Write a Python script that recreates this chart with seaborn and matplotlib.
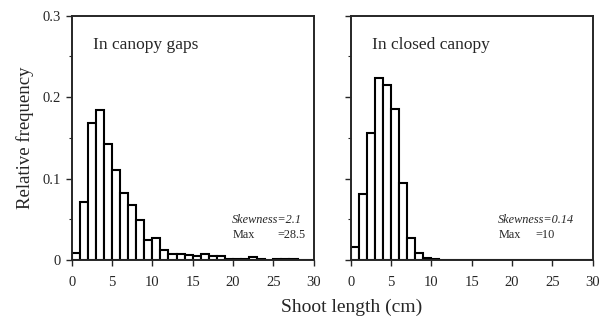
import numpy as np
import pandas as pd
import matplotlib
matplotlib.use("Agg")
import matplotlib.pyplot as plt
import seaborn as sns

# ---- Data (bin = 1 cm, left edges 0..29) ----
bin_left = np.arange(0, 30)
freq_gaps = [0.008, 0.071, 0.168, 0.184, 0.143, 0.110, 0.082, 0.067, 0.049, 0.025,
             0.027, 0.012, 0.007, 0.007, 0.006, 0.005, 0.007, 0.0045, 0.0045, 0.001,
             0.0015, 0.001, 0.004, 0.001, 0.0, 0.001, 0.001, 0.001, 0.0005, 0.0]
freq_closed = [0.016, 0.081, 0.156, 0.223, 0.215, 0.186, 0.094, 0.027, 0.008, 0.003,
               0.001, 0.0, 0.0, 0.0, 0.0, 0.0, 0.0, 0.0, 0.0, 0.0,
               0.0, 0.0, 0.0, 0.0, 0.0, 0.0, 0.0, 0.0, 0.0, 0.0]
panel_titles = ["In canopy gaps", "In closed canopy"]
skewness = ["2.1", "0.14"]
max_len = ["28.5", "10"]

# bin centres, so every value falls clearly inside its 1-cm bin
df = pd.DataFrame({"mid": np.concatenate([bin_left, bin_left]) + 0.5,
                   "freq": freq_gaps + freq_closed,
                   "panel": [panel_titles[0]] * 30 + [panel_titles[1]] * 30})

sns.set_style("ticks")
plt.rcParams["font.family"] = ["Liberation Serif", "DejaVu Serif"]
plt.rcParams["axes.linewidth"] = 1.4

fig = plt.figure(figsize=(6.05, 3.24), dpi=100)
ax1 = fig.add_axes([0.1185, 0.1975, 0.40, 0.754])
ax2 = fig.add_axes([0.5797, 0.1975, 0.40, 0.754])

# where the stats text starts, and where the "=" of the Max line sits
skew_x = [19.9, 18.3]
eq_x = [25.5, 22.9]
for i, (ax, title) in enumerate(zip([ax1, ax2], panel_titles)):
    sub = df[df["panel"] == title]
    sns.histplot(data=sub, x="mid", weights="freq", binwidth=1, binrange=(0, 30),
                 color="white", edgecolor="black", linewidth=1.5, alpha=1,
                 ax=ax)
    ax.set_xlim(0, 30)
    ax.set_ylim(0, 0.3)
    ax.set_xticks(np.arange(0, 31, 5))
    ax.set_yticks([0, 0.1, 0.2, 0.3])
    ax.set_yticks(np.arange(0.05, 0.3, 0.1), minor=True)
    ax.set_xlabel("")
    ax.set_ylabel("")
    ax.tick_params(axis="both", direction="out", length=4.5, width=1.0, labelsize=10.5)
    ax.tick_params(axis="x", pad=7)
    ax.tick_params(axis="y", which="minor", direction="out", length=2.5, width=0.8)
    for s in ax.spines.values():
        s.set_visible(True)
        s.set_linewidth(1.4)
    ax.text(2.6, 0.264, title, fontsize=12.5, va="center", ha="left")
    ax.text(skew_x[i], 0.049, "Skewness=" + skewness[i], fontsize=8.8,
            style="italic", va="center", ha="left")
    ax.text(skew_x[i], 0.031, "Max", fontsize=8.8, va="center", ha="left")
    ax.text(eq_x[i], 0.031, "=" + max_len[i], fontsize=8.8,
            va="center", ha="left")

ax1.set_yticklabels(["0", "0.1", "0.2", "0.3"])
ax2.set_yticklabels([])
ax1.set_ylabel("Relative frequency", fontsize=13.5, labelpad=6)
fig.text(0.582, 0.05, "Shoot length (cm)", fontsize=14, ha="center", va="center")

fig.savefig("out.png", dpi=100)
